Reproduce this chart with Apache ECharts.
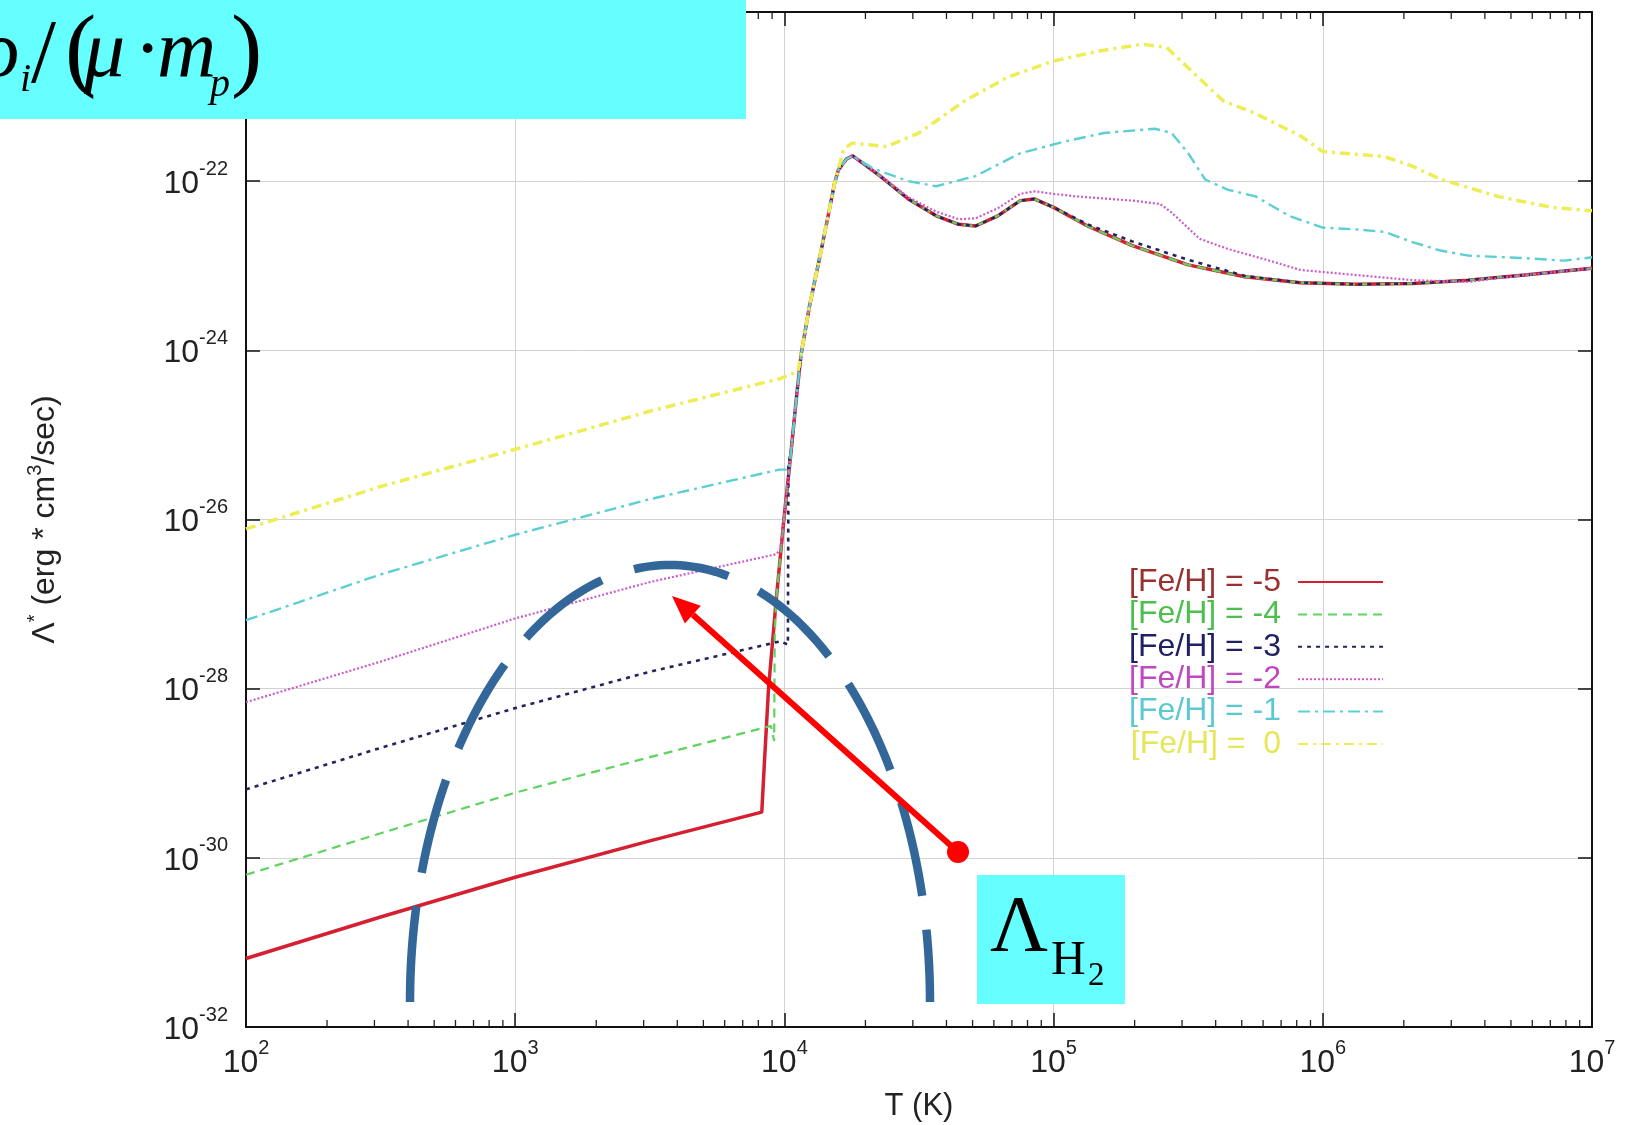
<!DOCTYPE html>
<html>
<head>
<meta charset="utf-8">
<title>Cooling function vs T</title>
<script src="https://cdn.jsdelivr.net/npm/echarts@6/dist/echarts.min.js"></script>
<style>
  html, body { margin: 0; padding: 0; background: #fff; }
  #main { width: 1632px; height: 1125px; }
</style>
</head>
<body>
<div id="main"></div>
<script>
// both axes are in log10 units: T (K) and Lambda* (erg*cm^3/sec)
var xTicks = [2, 3, 4, 5, 6, 7];
var yTicks = [-32, -30, -28, -26, -24, -22, -20];
var seriesNames = ['[Fe/H] = -5', '[Fe/H] = -4', '[Fe/H] = -3', '[Fe/H] = -2', '[Fe/H] = -1', '[Fe/H] =  0'];

// steep rise near 10^4 K shared by all metallicities
var riseT = [3.941, 3.969, 3.998, 4.025, 4.045, 4.062, 4.08, 4.093, 4.13, 4.16, 4.186, 4.20, 4.23, 4.254];
var riseL = [-28.0, -26.97, -26.0, -25.19, -24.55, -24.05, -23.72, -23.48, -22.92, -22.45, -22.03, -21.87, -21.74, -21.70];

// hot branch for [Fe/H] = -5 and -4
var hotT = [4.356, 4.46, 4.564, 4.647, 4.71, 4.793, 4.876, 4.928, 5.0, 5.126, 5.29, 5.5, 5.71, 5.917, 6.125, 6.333, 6.54, 6.75, 7.0];
var hotL = [-21.94, -22.21, -22.41, -22.51, -22.53, -22.41, -22.23, -22.21, -22.31, -22.53, -22.76, -22.99, -23.13, -23.20, -23.22, -23.21, -23.17, -23.11, -23.03];
var hot3L = [-21.94, -22.21, -22.41, -22.51, -22.53, -22.41, -22.23, -22.21, -22.31, -22.51, -22.71, -22.93, -23.12, -23.20, -23.22, -23.21, -23.17, -23.11, -23.03];

// low temperature (H2) branches, ending in the jump near 10^4 K
var low5T = [2, 2.5, 3, 3.5, 3.916, 3.926];
var low5L = [-31.19, -30.70, -30.23, -29.80, -29.46, -28.86];
var low4T = [2, 2.5, 3, 3.5, 3.95, 3.962, 3.964];
var low4L = [-30.20, -29.71, -29.23, -28.81, -28.44, -28.62, -27.40];
var low3T = [2, 2.5, 3, 3.5, 3.985, 4.013, 4.015];
var low3L = [-29.19, -28.70, -28.23, -27.80, -27.44, -27.48, -25.35];
var low2T = [2, 2.5, 3, 3.5, 3.97, 3.985];
var low2L = [-28.16, -27.68, -27.17, -26.74, -26.41, -26.35];
var low1T = [2, 2.5, 3, 3.5, 3.981, 4.017];
var low1L = [-27.19, -26.65, -26.18, -25.76, -25.41, -25.41];
var low0T = [2, 2.5, 3, 3.5, 3.988, 4.05];
var low0L = [-26.11, -25.61, -25.17, -24.72, -24.33, -24.25];

var hot2T = [4.356, 4.46, 4.564, 4.647, 4.71, 4.793, 4.876, 4.93, 5.0, 5.084, 5.292, 5.396, 5.438, 5.542, 5.646, 5.813, 5.917, 6.125, 6.333, 6.541, 6.75, 7.0];
var hot2L = [-21.93, -22.19, -22.36, -22.45, -22.44, -22.32, -22.15, -22.12, -22.15, -22.18, -22.23, -22.27, -22.37, -22.68, -22.80, -22.95, -23.05, -23.11, -23.17, -23.19, -23.11, -23.03];
var hot1T = [4.33, 4.46, 4.564, 4.71, 4.876, 5.043, 5.188, 5.376, 5.438, 5.50, 5.563, 5.646, 5.75, 5.875, 6.0, 6.125, 6.229, 6.333, 6.437, 6.54, 6.75, 6.895, 7.0];
var hot1L = [-21.85, -22.0, -22.06, -21.94, -21.67, -21.53, -21.43, -21.38, -21.43, -21.67, -21.98, -22.10, -22.18, -22.41, -22.55, -22.57, -22.60, -22.72, -22.82, -22.88, -22.91, -22.94, -22.90];
var hot0T = [4.22, 4.252, 4.38, 4.5, 4.67, 4.83, 5.0, 5.17, 5.33, 5.42, 5.5, 5.63, 5.75, 5.92, 6.0, 6.23, 6.33, 6.44, 6.65, 6.85, 7.0];
var hot0L = [-21.62, -21.55, -21.59, -21.43, -21.05, -20.77, -20.58, -20.46, -20.38, -20.42, -20.66, -21.05, -21.20, -21.47, -21.65, -21.71, -21.82, -21.98, -22.18, -22.31, -22.35];

// minor tick multipliers inside each decade
var minorMult = [2, 3, 4, 5, 6, 7, 8, 9];

var lineColors = ['#d42030', '#5fd35f', '#23235e', '#cc5acc', '#5ccfd2', '#eded55'];
var textColors = ['#9a3030', '#4cbf4c', '#202064', '#c048c0', '#5cc8d2', '#e6e65a'];
var dashes = ['solid', [9, 6], [4, 5], [2, 2], [12, 5, 3, 5], [10, 5, 3, 5]];
var widths = [3.5, 2.2, 2.6, 2.2, 2.4, 3.5];

function pairs(t, l) {
  return t.map(function (v, i) { return [v, l[i]]; });
}

var seriesData = [
  pairs(low5T.concat(riseT, hotT), low5L.concat(riseL, hotL)),
  pairs(low4T.concat(riseT.slice(1), hotT), low4L.concat(riseL.slice(1), hotL)),
  pairs(low3T.concat(riseT.slice(3), hotT), low3L.concat(riseL.slice(3), hot3L)),
  pairs(low2T.concat(riseT.slice(2), hot2T), low2L.concat(riseL.slice(2), hot2L)),
  pairs(low1T.concat(riseT.slice(3), hot1T), low1L.concat(riseL.slice(3), hot1L)),
  pairs(low0T.concat(riseT.slice(5, 11), hot0T), low0L.concat(riseL.slice(5, 11), hot0L))
];

var minorTicks = [];
xTicks.slice(0, -1).forEach(function (d) {
  minorMult.forEach(function (m) { minorTicks.push([d + Math.log10(m), yTicks[0]]); });
});

var myChart = echarts.init(document.getElementById('main'));

var tickLabel = {
  color: '#222',
  fontFamily: 'Liberation Sans',
  formatter: function (v) { return '{b|10}{s|' + v + '}'; },
  rich: {
    b: { fontSize: 32, fontFamily: 'Liberation Sans', color: '#222', padding: [6, 0, 0, 0] },
    s: { fontSize: 20, fontFamily: 'Liberation Sans', color: '#222', padding: [0, 0, 24, 0] }
  }
};

var series = seriesNames.map(function (name, i) {
  return {
    name: name,
    type: 'line',
    symbol: 'none',
    data: seriesData[i],
    lineStyle: { color: lineColors[i], width: widths[i], type: dashes[i] },
    itemStyle: { color: lineColors[i] },
    z: 3 + i
  };
});

// gnuplot-style minor ticks on bottom and top border
series.push({
  type: 'custom',
  silent: true,
  data: minorTicks,
  encode: { x: 0, y: 1 },
  z: 20,
  renderItem: function (params, api) {
    var b = api.coord([api.value(0), yTicks[0]]);
    var t = api.coord([api.value(0), yTicks[yTicks.length - 1]]);
    return {
      type: 'group',
      children: [
        { type: 'line', shape: { x1: b[0], y1: b[1], x2: b[0], y2: b[1] - 7 }, style: { stroke: '#222', lineWidth: 1.3 } },
        { type: 'line', shape: { x1: t[0], y1: t[1], x2: t[0], y2: t[1] + 7 }, style: { stroke: '#222', lineWidth: 1.3 } }
      ]
    };
  }
});

// dashed ellipse around the H2 branches
var arcPts = [];
for (var k = 0; k <= 160; k++) {
  var a = Math.PI + Math.PI * k / 160;
  arcPts.push([670 + 260 * Math.cos(a), 1002 + 437 * Math.sin(a)]);
}

// arrow pointing at the H2 curves
var arrowFrom = [958, 852], arrowTip = [672, 596];
var dx = arrowTip[0] - arrowFrom[0], dy = arrowTip[1] - arrowFrom[1];
var len = Math.sqrt(dx * dx + dy * dy);
var ux = dx / len, uy = dy / len;
var baseX = arrowTip[0] - ux * 28, baseY = arrowTip[1] - uy * 28;

var serif = '"Liberation Serif", "Times New Roman", serif';

var option = {
  animation: false,
  backgroundColor: '#fff',
  textStyle: { fontFamily: 'Liberation Sans' },
  grid: { left: 246, right: 40, top: 12, bottom: 98, containLabel: false, outerBoundsMode: 'none' },
  legend: {
    orient: 'vertical',
    left: 1124,
    top: 561,
    align: 'right',
    itemWidth: 85,
    itemHeight: 14,
    itemGap: 0.4,
    selectedMode: false,
    itemStyle: { opacity: 0 },
    textStyle: { fontSize: 32, lineHeight: 30, width: 152, align: 'right', padding: [0, 12, 0, 0] },
    data: seriesNames.map(function (n, i) {
      return { name: n, textStyle: { color: textColors[i] } };
    })
  },
  xAxis: [{
    type: 'value',
    min: 2, max: 7, interval: 1,
    name: 'T (K)',
    nameLocation: 'middle',
    nameGap: 64,
    nameTextStyle: { fontSize: 31, color: '#222', fontFamily: 'Liberation Sans' },
    axisLine: { show: true, onZero: false, lineStyle: { color: '#111', width: 2 } },
    axisTick: { show: true, inside: true, length: 14, lineStyle: { color: '#111', width: 1.5 } },
    axisLabel: Object.assign({ margin: 11 }, tickLabel),
    splitLine: { show: true, lineStyle: { color: '#d2d2d2', width: 1 } }
  }, {
    type: 'value',
    position: 'top',
    min: 2, max: 7, interval: 1,
    axisLine: { show: true, onZero: false, lineStyle: { color: '#111', width: 2 } },
    axisTick: { show: true, inside: true, length: 14, lineStyle: { color: '#111', width: 1.5 } },
    axisLabel: { show: false },
    splitLine: { show: false }
  }],
  yAxis: [{
    type: 'value',
    min: -32, max: -20, interval: 2,
    name: '{n|Λ}{sup|*}{n| (erg * cm}{sup|3}{n|/sec)}',
    nameLocation: 'middle',
    nameGap: 181,
    nameTextStyle: {
      color: '#222',
      rich: {
        n: { fontSize: 32, fontFamily: 'Liberation Sans', color: '#222' },
        sup: { fontSize: 20, fontFamily: 'Liberation Sans', color: '#222', padding: [0, 0, 20, 0] }
      }
    },
    axisLine: { show: true, onZero: false, lineStyle: { color: '#111', width: 2 } },
    axisTick: { show: true, inside: true, length: 14, lineStyle: { color: '#111', width: 1.5 } },
    axisLabel: Object.assign({ margin: 18 }, tickLabel),
    splitLine: { show: true, lineStyle: { color: '#d2d2d2', width: 1 } }
  }, {
    type: 'value',
    position: 'right',
    min: -32, max: -20, interval: 2,
    axisLine: { show: true, onZero: false, lineStyle: { color: '#111', width: 2 } },
    axisTick: { show: true, inside: true, length: 14, lineStyle: { color: '#111', width: 1.5 } },
    axisLabel: { show: false },
    splitLine: { show: false }
  }],
  series: series,
  graphic: [
    { type: 'polyline', z: 50, shape: { points: arcPts }, style: { fill: null, stroke: '#336699', lineWidth: 8.5, lineDash: [96, 34] } },
    { type: 'line', z: 51, shape: { x1: arrowFrom[0], y1: arrowFrom[1], x2: baseX, y2: baseY }, style: { stroke: '#ff0000', lineWidth: 6 } },
    { type: 'polygon', z: 51, shape: { points: [arrowTip, [baseX - uy * 12, baseY + ux * 12], [baseX + uy * 12, baseY - ux * 12]] }, style: { fill: '#ff0000' } },
    { type: 'circle', z: 51, shape: { cx: arrowFrom[0], cy: arrowFrom[1], r: 11 }, style: { fill: '#ff0000' } },

    // formula box, cut at the left edge of the slide
    { type: 'rect', z: 60, shape: { x: 0, y: 0, width: 746, height: 119 }, style: { fill: '#66ffff' } },
    { type: 'text', z: 61, x: -20, y: 54, style: { text: 'ρ', font: 'italic 82px ' + serif, fill: '#000', verticalAlign: 'middle' } },
    { type: 'text', z: 61, x: 20, y: 80, style: { text: 'i', font: 'italic 40px ' + serif, fill: '#000', verticalAlign: 'middle' } },
    { type: 'text', z: 61, x: 31, y: 58, style: { text: '/', font: '90px ' + serif, fill: '#000', verticalAlign: 'middle' } },
    { type: 'text', z: 61, x: 65, y: 54, style: { text: '(', font: '94px ' + serif, fill: '#000', verticalAlign: 'middle' } },
    { type: 'text', z: 61, x: 84, y: 54, style: { text: 'μ', font: 'italic 82px ' + serif, fill: '#000', verticalAlign: 'middle' } },
    { type: 'text', z: 61, x: 134, y: 54, style: { text: '·', font: '82px ' + serif, fill: '#000', verticalAlign: 'middle' } },
    { type: 'text', z: 61, x: 157, y: 54, style: { text: 'm', font: 'italic 82px ' + serif, fill: '#000', verticalAlign: 'middle' } },
    { type: 'text', z: 61, x: 210, y: 85, style: { text: 'p', font: 'italic 40px ' + serif, fill: '#000', verticalAlign: 'middle' } },
    { type: 'text', z: 61, x: 231, y: 54, style: { text: ')', font: '94px ' + serif, fill: '#000', verticalAlign: 'middle' } },

    // Lambda_H2 label box
    { type: 'rect', z: 60, shape: { x: 977, y: 875, width: 148, height: 129 }, style: { fill: '#66ffff' } },
    { type: 'text', z: 61, x: 990, y: 930, style: { text: 'Λ', font: '80px ' + serif, fill: '#000', verticalAlign: 'middle' } },
    { type: 'text', z: 61, x: 1051, y: 961, style: { text: 'H', font: '48px ' + serif, fill: '#000', verticalAlign: 'middle' } },
    { type: 'text', z: 61, x: 1088, y: 976, style: { text: '2', font: '33px ' + serif, fill: '#000', verticalAlign: 'middle' } }
  ]
};

myChart.setOption(option);
</script>
</body>
</html>
